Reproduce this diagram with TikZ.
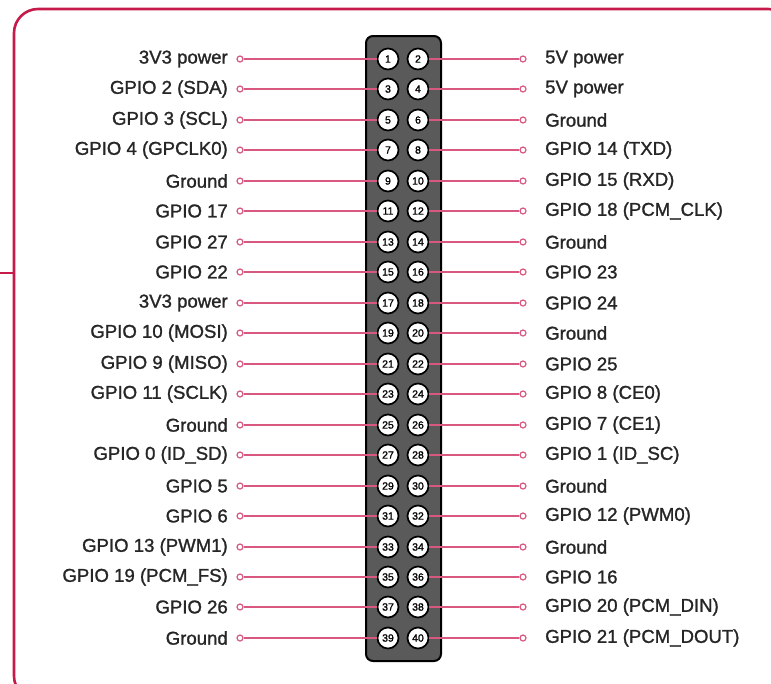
\documentclass[tikz,border=0pt]{standalone}
\usepackage{fontspec}
\setmainfont{Liberation Sans}
\newfontfamily\pinfont[AutoFakeBold=1.3]{Liberation Sans}
\usepackage{tikz}
\usetikzlibrary{positioning}
\definecolor{RaspRed}{HTML}{C51A4A}
\definecolor{PinLine}{HTML}{D9587F}
\definecolor{HeaderGrey}{HTML}{5A5A5A}
\definecolor{LabelInk}{HTML}{262626}
\tikzset{
  frame/.style={draw=RaspRed, line width=2.6pt, rounded corners=24pt},
  header/.style={draw=black, line width=2pt, fill=HeaderGrey, rounded corners=7pt},
  pin/.style={circle, draw=black, line width=1.7pt, fill=white, minimum size=21pt, inner sep=0pt, font=\pinfont\fontsize{10.5}{10.5}\selectfont\bfseries},
  tip/.style={circle, draw=PinLine, line width=1.2pt, fill=white, minimum size=6pt, inner sep=0pt},
  wire/.style={draw=PinLine, line width=1.6pt},
  leftlabel/.style={anchor=east, text=LabelInk, font=\pinfont\fontsize{18.6}{18.6}\selectfont\bfseries, inner sep=0pt},
  rightlabel/.style={anchor=west, text=LabelInk, font=\pinfont\fontsize{18.6}{18.6}\selectfont\bfseries, inner sep=0pt}
}
\begin{document}
\begin{tikzpicture}[x=1pt, y=-1pt]
  \useasboundingbox (0,0) rectangle (771,683);
  % outer frame and its stub on the left
  \draw[frame] (14,9) rectangle (792,700);
  \coordinate (stub) at (0,273);
  \coordinate (stubend) at (14,273);
  \draw[RaspRed, line width=2pt] (stub) -- (stubend);

  \draw[header] (366,36) rectangle (441,661);

  \foreach \l/\r [count=\i] in {3V3 power/5V power, GPIO 2 (SDA)/5V power, GPIO 3 (SCL)/Ground,
      GPIO 4 (GPCLK0)/GPIO 14 (TXD), Ground/GPIO 15 (RXD), GPIO 17/GPIO 18 (PCM\_CLK),
      GPIO 27/Ground, GPIO 22/GPIO 23, 3V3 power/GPIO 24, GPIO 10 (MOSI)/Ground,
      GPIO 9 (MISO)/GPIO 25, GPIO 11 (SCLK)/GPIO 8 (CE0), Ground/GPIO 7 (CE1),
      GPIO 0 (ID\_SD)/GPIO 1 (ID\_SC), GPIO 5/Ground, GPIO 6/GPIO 12 (PWM0),
      GPIO 13 (PWM1)/Ground, GPIO 19 (PCM\_FS)/GPIO 16, GPIO 26/GPIO 20 (PCM\_DIN),
      Ground/GPIO 21 (PCM\_DOUT)} {
    \pgfmathtruncatemacro{\y}{round(59+(\i-1)*30.47)}
    \pgfmathtruncatemacro{\odd}{2*\i-1}
    \pgfmathtruncatemacro{\even}{2*\i}
    \node[pin] (p\odd) at (388,\y) {\odd};
    \node[pin] (p\even) at (418,\y) {\even};
    \node[tip] (t\odd) at (240,\y) {};
    \node[tip] (t\even) at (523,\y) {};
    \node[leftlabel] (l\odd) at (228,\y) {\l};
    \node[rightlabel] (l\even) at (545,\y) {\r};
    \draw[wire] (t\odd) -- (p\odd);
    \draw[wire] (p\even) -- (t\even);
  }
\end{tikzpicture}
\end{document}
